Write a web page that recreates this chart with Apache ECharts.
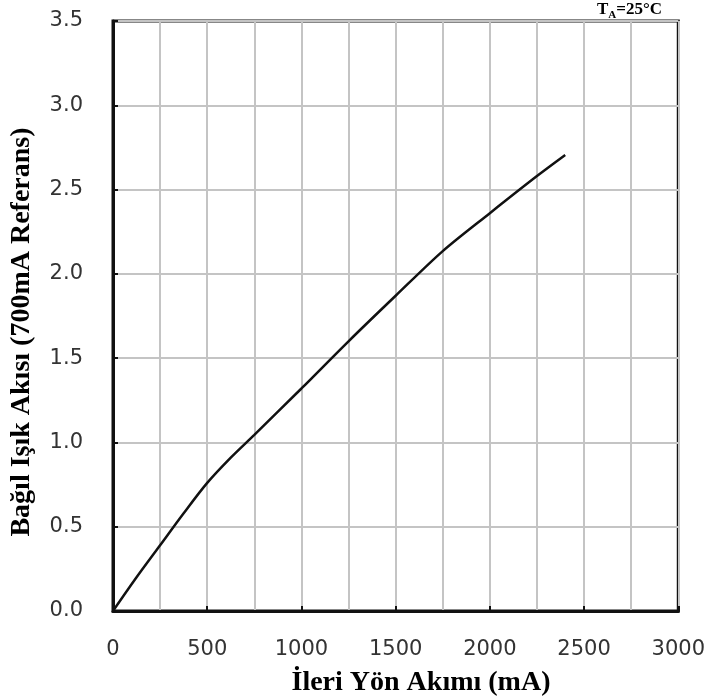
<!DOCTYPE html>
<html>
<head>
<meta charset="utf-8">
<script src="https://cdn.jsdelivr.net/npm/echarts@6/dist/echarts.min.js"></script>
<style>
html,body{margin:0;padding:0;background:#fff;}
#chart{width:708px;height:700px;}
</style>
</head>
<body>
<div id="chart"></div>
<script>
// Data
const currentMA = [0, 125, 250, 375, 500, 625, 750, 1000, 1250, 1500, 1750, 2000, 2250, 2400];
const relativeFlux = [0, 0.20, 0.39, 0.58, 0.76, 0.91, 1.045, 1.32, 1.60, 1.87, 2.135, 2.36, 2.58, 2.705];
const xTitle = 'İleri Yön Akımı (mA)';
const yTitle = 'Bağıl Işık Akısı (700mA Referans)';

const chart = echarts.init(document.getElementById('chart'), null, {renderer: 'canvas'});
const points = currentMA.map((x, i) => [x, relativeFlux[i]]);

const tickFont = {fontFamily: 'DejaVu Sans', fontSize: 21, color: '#333'};
const gridLine = {show: true, lineStyle: {color: '#c4c4c4', width: 2}};

chart.setOption({
  animation: false,
  backgroundColor: '#fff',
  grid: {left: 113, right: 25, top: 21, bottom: 89, show: true, borderColor: '#111', borderWidth: 3},
  xAxis: {
    type: 'value', min: 0, max: 3000, interval: 500,
    axisLine: {show: true, lineStyle: {color: '#111', width: 3}},
    axisTick: {show: true, inside: true, length: 5, lineStyle: {color: '#111', width: 2}},
    axisLabel: Object.assign({margin: 28, formatter: v => String(v)}, tickFont),
    splitLine: gridLine,
    minorTick: {show: false, splitNumber: 2},
    minorSplitLine: gridLine
  },
  yAxis: {
    type: 'value', min: 0, max: 3.5, interval: 0.5,
    axisLine: {show: true, lineStyle: {color: '#111', width: 3}},
    axisTick: {show: true, inside: true, length: 5, lineStyle: {color: '#111', width: 2}},
    axisLabel: Object.assign({margin: 30, formatter: v => v.toFixed(1)}, tickFont),
    splitLine: gridLine
  },
  series: [{
    type: 'line', data: points, smooth: 0.3, symbol: 'none',
    lineStyle: {color: '#111', width: 2.5}
  }],
  graphic: [
    {type: 'text', x: 421, y: 683, style: {text: xTitle, x: 0, y: 0, align: 'center', verticalAlign: 'middle',
      font: 'bold 28px "Liberation Serif"', fill: '#000'}},
    {type: 'text', rotation: Math.PI / 2, x: 22, y: 332, style: {text: yTitle, x: 0, y: 0, align: 'center', verticalAlign: 'middle',
      font: 'bold 28px "Liberation Serif"', fill: '#000'}},
    {type: 'text', x: 597, y: 1, style: {
      text: '{a|T}{s|A}{a|=25°C}',
      rich: {
        a: {fontFamily: 'Liberation Serif', fontWeight: 'bold', fontSize: 17, fill: '#000', verticalAlign: 'top'},
        s: {fontFamily: 'Liberation Serif', fontWeight: 'bold', fontSize: 11, fill: '#000', padding: [9, 0, 0, 0], verticalAlign: 'top'}
      }
    }}
  ]
});
</script>
</body>
</html>
